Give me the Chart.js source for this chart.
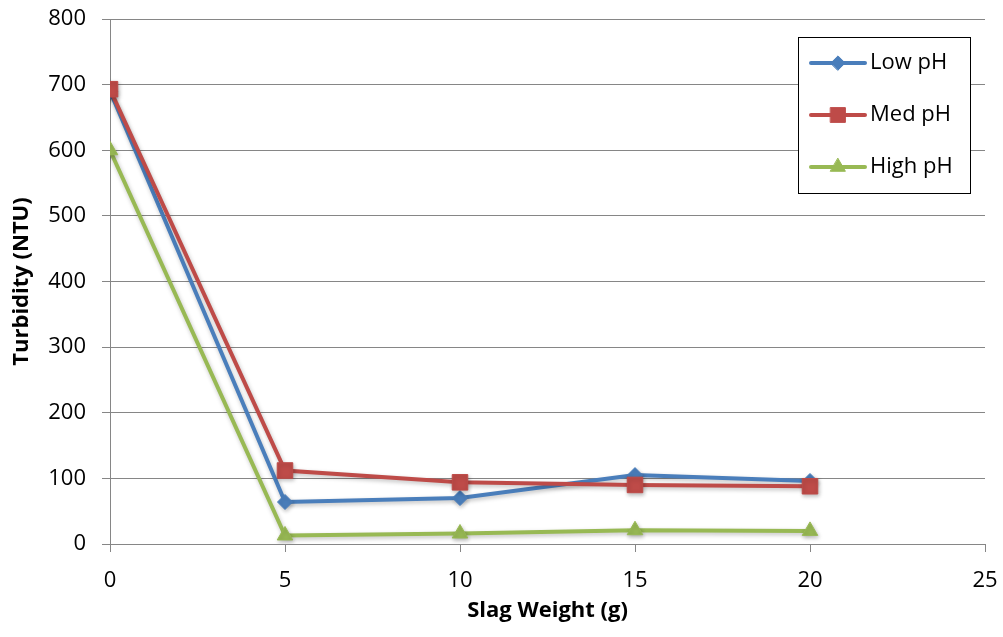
<!DOCTYPE html>
<html>
<head>
<meta charset="utf-8">
<script src="https://cdn.jsdelivr.net/npm/chart.js@4/dist/chart.umd.min.js"></script>
<style>
  html, body { margin: 0; padding: 0; background: #ffffff; }
  #wrap { width: 1003px; height: 637px; }
</style>
</head>
<body>
<div id="wrap"><canvas id="chart" width="1003" height="637"></canvas></div>
<script>
// slag weight (g)
const slagWeight = [0, 5, 10, 15, 20];
// turbidity (NTU)
const lowPH = [690, 64, 70, 105, 96];
const medPH = [693, 112, 94, 90, 88];
const highPH = [600, 13, 16, 21, 20];

const seriesNames = ["Low pH", "Med pH", "High pH"];
const seriesColors = ["#4a7ebb", "#be4b48", "#98b954"];
const seriesMarkers = ["rectRot", "rect", "triangle"];
const markerSizes = [7.5, 11, 9];

function toPoints(vals) {
    return slagWeight.map((x, i) => ({ x: x, y: vals[i] }));
}

const font = "Open Sans";

// soft drop shadow under the series, as in the original
const seriesShadow = {
    id: "seriesShadow",
    beforeDatasetsDraw(chart) {
        const ctx = chart.ctx;
        ctx.save();
        ctx.shadowColor = "rgba(0,0,0,0.25)";
        ctx.shadowBlur = 4;
        ctx.shadowOffsetX = 1;
        ctx.shadowOffsetY = 2;
    },
    afterDatasetsDraw(chart) {
        chart.ctx.restore();
    }
};

// legend drawn as a boxed panel inside the plot area, like the original
const boxLegend = {
    id: "boxLegend",
    afterDraw(chart) {
        const ctx = chart.ctx;
        const area = chart.chartArea;
        const w = 172, h = 156;
        const x0 = area.right - 15 - w;
        const y0 = area.top + 18;
        ctx.save();
        ctx.fillStyle = "#ffffff";
        ctx.fillRect(x0, y0, w, h);
        ctx.strokeStyle = "#000000";
        ctx.lineWidth = 1;
        ctx.strokeRect(x0 + 0.5, y0 + 0.5, w, h);
        chart.data.datasets.forEach((ds, i) => {
            const cy = y0 + 26 + i * 52;
            ctx.strokeStyle = ds.borderColor;
            ctx.lineWidth = 4;
            ctx.lineCap = "round";
            ctx.beginPath();
            ctx.moveTo(x0 + 13, cy);
            ctx.lineTo(x0 + 67, cy);
            ctx.stroke();
            ctx.fillStyle = ds.backgroundColor;
            ctx.strokeStyle = ds.borderColor;
            ctx.lineWidth = 1;
            Chart.helpers.drawPoint(ctx, {
                pointStyle: ds.pointStyle,
                radius: ds.pointRadius * 0.95,
                borderWidth: 1
            }, x0 + 40, cy);
            ctx.fillStyle = "#000000";
            ctx.font = "22px '" + font + "'";
            ctx.textBaseline = "middle";
            ctx.fillText(ds.label, x0 + 72, cy);
        });
        ctx.restore();
    }
};

const datasets = [lowPH, medPH, highPH].map((vals, i) => ({
    label: seriesNames[i],
    data: toPoints(vals),
    order: 3 - i,
    borderColor: seriesColors[i],
    backgroundColor: seriesColors[i],
    pointBackgroundColor: seriesColors[i],
    pointBorderColor: seriesColors[i],
    pointStyle: seriesMarkers[i],
    pointRadius: markerSizes[i],
    pointBorderWidth: 1,
    borderWidth: 4,
    tension: 0
}));

new Chart(document.getElementById("chart"), {
    type: "line",
    data: { datasets: datasets },
    options: {
        responsive: false,
        animation: false,
        layout: { padding: { top: 19, right: 18, bottom: 0, left: 0 } },
        scales: {
            x: {
                type: "linear",
                min: 0,
                max: 25,
                ticks: {
                    stepSize: 5,
                    color: "#000000",
                    font: { family: font, size: 22 },
                    padding: 16
                },
                grid: {
                    drawOnChartArea: false,
                    drawTicks: true,
                    tickLength: 8,
                    color: "#868686"
                },
                border: { color: "#868686", width: 1 },
                title: {
                    display: true,
                    text: "Slag Weight (g)",
                    color: "#000000",
                    font: { family: font, size: 22, weight: "bold" },
                    padding: { top: 0, bottom: 13 }
                },
                afterFit(scale) {
                    scale.height = 93;
                    scale.paddingLeft = 0;
                    scale.paddingRight = 0;
                }
            },
            y: {
                min: 0,
                max: 800,
                ticks: {
                    stepSize: 100,
                    color: "#000000",
                    font: { family: font, size: 22 },
                    padding: 16
                },
                grid: {
                    color: "#868686",
                    tickLength: 8
                },
                border: { color: "#868686", width: 1 },
                title: {
                    display: true,
                    text: "Turbidity (NTU)",
                    color: "#000000",
                    font: { family: font, size: 22, weight: "bold" },
                    padding: { top: 9, bottom: 0 }
                },
                afterFit(scale) {
                    scale.width = 110;
                    scale.paddingTop = 0;
                    scale.paddingBottom = 0;
                }
            }
        },
        plugins: {
            legend: { display: false },
            tooltip: { enabled: false }
        }
    },
    plugins: [seriesShadow, boxLegend]
});
</script>
</body>
</html>
